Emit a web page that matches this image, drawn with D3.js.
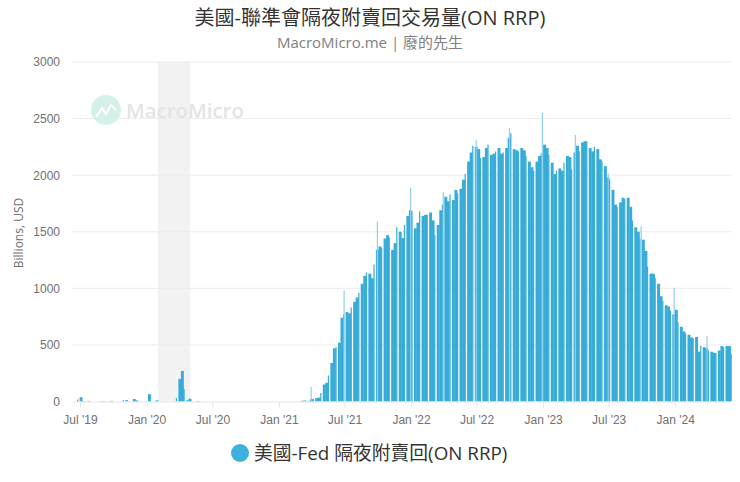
<!DOCTYPE html>
<html>
<head>
<meta charset="utf-8">
<script src="https://cdn.jsdelivr.net/npm/d3@7"></script>
<style>
    html, body { margin: 0; padding: 0; background: #fff; }
    svg { display: block; font-family: "Open Sans", "Noto Sans CJK TC", sans-serif; }
    .domain { stroke: #e6e6e6; }
    .tick line { stroke: #e6e6e6; }
    .tick text { fill: #707070; font-size: 12px; }
</style>
</head>
<body>
<svg id="chart" width="740" height="482"></svg>
<script>
var titleText = '美國-聯準會隔夜附賣回交易量(ON RRP)';
var subtitleText = 'MacroMicro.me | 廢的先生';
var seriesName = '美國-Fed 隔夜附賣回(ON RRP)';
var yAxisTitle = 'Billions, USD';

var firstWeek = '2019-06-09';
var lastDay = '2024-06-06';

var yTicks = [0, 500, 1000, 1500, 2000, 2500, 3000];
var xTicks = ['2019-07-01', '2020-01-01', '2020-07-01', '2021-01-01', '2021-07-01',
    '2022-01-01', '2022-07-01', '2023-01-01', '2023-07-01', '2024-01-01'];
var recession = ['2020-02-01', '2020-05-01'];

// weekly level
var weeklyValues = [
    0, 0, 18, 38, 4, 0, 5, 0, 0, 0,
    0, 5, 4, 0, 0, 5, 0, 0, 0, 0,
    14, 12, 0, 0, 22, 10, 0, 0, 0, 0,
    65, 0, 0, 10, 0, 0, 0, 0, 0, 0,
    0, 30, 200, 270, 110, 10, 25, 5, 0, 4,
    2, 0, 0, 0, 0, 0, 0, 0, 0, 0,
    0, 0, 0, 0, 0, 0, 0, 0, 0, 0,
    0, 0, 0, 0, 0, 0, 0, 0, 0, 0,
    0, 0, 0, 0, 0, 0, 0, 0, 0, 0,
    5, 8, 10, 6, 20, 25, 30, 35, 75, 150,
    165, 230, 340, 470, 480, 520, 740, 770, 790, 780,
    830, 880, 920, 960, 1040, 1110, 1140, 1130, 1090, 1210,
    1340, 1370, 1360, 1440, 1470, 1450, 1340, 1400, 1540, 1500,
    1445, 1560, 1640, 1690, 1680, 1530, 1580, 1680, 1640, 1650,
    1650, 1670, 1600, 1470, 1560, 1690, 1740, 1810, 1770, 1830,
    1780, 1870, 1840, 1880, 1960, 2010, 2120, 2200, 2260, 2250,
    2230, 2150, 2160, 2240, 2270, 2180, 2190, 2210, 2240, 2190,
    2200, 2240, 2330, 2370, 2230, 2220, 2210, 2240, 2220, 2170,
    2120, 2070, 2040, 2120, 2170, 2190, 2270, 2240, 2180, 2110,
    2010, 2040, 2060, 2040, 2110, 2170, 2160, 2050, 2200, 2260,
    2210, 2290, 2300, 2300, 2240, 2210, 2250, 2230, 2140, 2120,
    2080, 1980, 1960, 1870, 1740, 1720, 1760, 1800, 1790, 1800,
    1720, 1600, 1540, 1500, 1440, 1430, 1330, 1190, 1130, 1130,
    1090, 1040, 930, 890, 850, 840, 800, 770, 810, 700,
    660, 620, 600, 590, 565, 560, 570, 440, 490, 480,
    470, 450, 440, 430, 430, 450, 490, 480, 490, 490,
    420
];

// quarter-end peaks that stand above the weekly level
var spikeDates = ['2021-03-31', '2021-06-30', '2021-09-30', '2021-12-31', '2022-03-31', '2022-06-30',
    '2022-09-30', '2022-12-30', '2023-03-31', '2023-06-30', '2023-09-29', '2023-12-29', '2024-03-29'];
var spikeValues = [130, 980, 1590, 1890, 1850, 2310, 2415, 2550, 2355, 2015, 1545, 1005, 580];

var parseDate = d3.utcParse('%Y-%m-%d');
var barColor = '#38acd9';

var svg = d3.select('#chart');

var xScale = d3.scaleUtc()
    .domain([parseDate(firstWeek), parseDate(lastDay)])
    .range([72, 732]);
var yScale = d3.scaleLinear()
    .domain([0, 3000])
    .range([401.5, 62]);

// recession band
svg.append('rect')
    .attr('x', xScale(parseDate(recession[0])))
    .attr('y', yScale(3000))
    .attr('width', xScale(parseDate(recession[1])) - xScale(parseDate(recession[0])))
    .attr('height', yScale(0) - yScale(3000))
    .attr('fill', '#f2f2f2');

// grid lines
svg.append('g')
    .selectAll('line')
    .data(yTicks.slice(1))
    .enter()
    .append('line')
    .attr('x1', 72)
    .attr('x2', 732)
    .attr('y1', function(d) { return yScale(d); })
    .attr('y2', function(d) { return yScale(d); })
    .attr('stroke', '#ececec');

// watermark
var mark = svg.append('g');
mark.append('circle')
    .attr('cx', 106)
    .attr('cy', 110)
    .attr('r', 15)
    .attr('fill', '#d3f1e9');
mark.append('path')
    .attr('d', d3.line()([[96, 117], [102, 108], [106, 114], [111, 105], [116, 110]]))
    .attr('fill', 'none')
    .attr('stroke', '#fff')
    .attr('stroke-width', 2);
mark.append('text')
    .attr('x', 126)
    .attr('y', 118)
    .attr('font-size', 20.4)
    .attr('font-weight', 600)
    .attr('fill', '#e4e4e4')
    .text('MacroMicro');

// weekly bars, every third one leaves a thin gap
var weekStart = parseDate(firstWeek);
var weekly = weeklyValues.map(function(v, i) {
    return { date: d3.utcDay.offset(weekStart, i * 7), value: v, index: i };
});

svg.append('g')
    .selectAll('rect')
    .data(weekly.filter(function(d) { return d.value > 0; }))
    .enter()
    .append('rect')
    .attr('x', function(d) { return xScale(d.date); })
    .attr('y', function(d) { return yScale(d.value); })
    .attr('width', function(d) {
        var step = xScale(d3.utcDay.offset(d.date, 7)) - xScale(d.date);
        return d.index % 3 === 2 ? step - 1.3 : step + 0.4;
    })
    .attr('height', function(d) { return yScale(0) - yScale(d.value); })
    .attr('fill', barColor);

svg.append('g')
    .selectAll('rect')
    .data(spikeDates)
    .enter()
    .append('rect')
    .attr('x', function(d) { return xScale(parseDate(d)) - 0.6; })
    .attr('y', function(d, i) { return yScale(spikeValues[i]); })
    .attr('width', 1.2)
    .attr('height', function(d, i) { return yScale(0) - yScale(spikeValues[i]); })
    .attr('fill', '#8fd0ea');

// axes
var xAxis = d3.axisBottom(xScale)
    .tickValues(xTicks.map(parseDate))
    .tickFormat(d3.utcFormat("%b '%y"))
    .tickSize(6)
    .tickPadding(8)
    .tickSizeOuter(0);
svg.append('g')
    .attr('transform', 'translate(0,' + yScale(0) + ')')
    .call(xAxis);

var yAxis = d3.axisLeft(yScale)
    .tickValues(yTicks)
    .tickFormat(d3.format('d'))
    .tickSize(0)
    .tickPadding(12);
svg.append('g')
    .attr('transform', 'translate(72,0)')
    .call(yAxis)
    .call(function(g) { g.select('.domain').remove(); });

svg.append('text')
    .attr('transform', 'translate(23,233) rotate(-90)')
    .attr('text-anchor', 'middle')
    .attr('font-size', 12)
    .attr('fill', '#707070')
    .text(yAxisTitle);

// title
svg.append('text')
    .attr('x', 370)
    .attr('y', 25)
    .attr('text-anchor', 'middle')
    .attr('font-size', 20)
    .attr('fill', '#333')
    .text(titleText);
svg.append('text')
    .attr('x', 370)
    .attr('y', 48)
    .attr('text-anchor', 'middle')
    .attr('font-size', 15)
    .attr('fill', '#808080')
    .text(subtitleText);

// legend
svg.append('circle')
    .attr('cx', 240)
    .attr('cy', 453)
    .attr('r', 9)
    .attr('fill', '#3eb0de');
svg.append('text')
    .attr('x', 254)
    .attr('y', 460)
    .attr('font-size', 18.8)
    .attr('fill', '#333')
    .text(seriesName);
</script>
</body>
</html>
